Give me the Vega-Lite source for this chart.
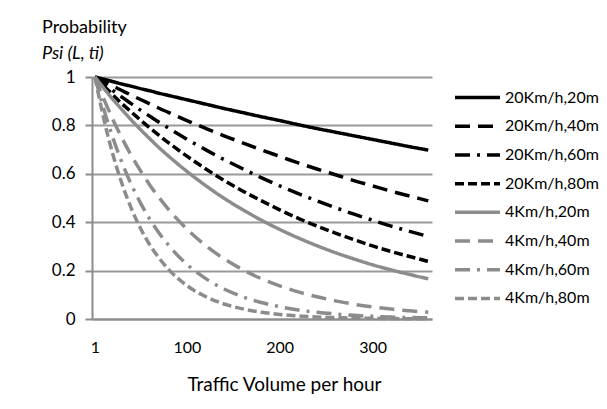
{
  "$schema": "https://vega.github.io/schema/vega-lite/v6.json",
  "autosize": {"type": "pad"},
  "padding": {"left": 42, "top": 19, "right": 5, "bottom": 5},
  "background": "white",
  "spacing": 23,
  "bounds": "flush",
  "config": {
    "font": "Lato",
    "view": {"stroke": null}
  },
  "datasets": {
    "legend": [
      {"s": "20Km/h,20m"}, {"s": "20Km/h,40m"}, {"s": "20Km/h,60m"}, {"s": "20Km/h,80m"},
      {"s": "4Km/h,20m"}, {"s": "4Km/h,40m"}, {"s": "4Km/h,60m"}, {"s": "4Km/h,80m"}
    ],
    "curves": [
      {"s": "20Km/h,20m", "v": 1, "p": 1}, {"s": "20Km/h,20m", "v": 10, "p": 0.991}, {"s": "20Km/h,20m", "v": 20, "p": 0.981}, {"s": "20Km/h,20m", "v": 30, "p": 0.971}, {"s": "20Km/h,20m", "v": 40, "p": 0.962}, {"s": "20Km/h,20m", "v": 50, "p": 0.952}, {"s": "20Km/h,20m", "v": 60, "p": 0.943}, {"s": "20Km/h,20m", "v": 70, "p": 0.933}, {"s": "20Km/h,20m", "v": 80, "p": 0.924}, {"s": "20Km/h,20m", "v": 100, "p": 0.906}, {"s": "20Km/h,20m", "v": 120, "p": 0.888}, {"s": "20Km/h,20m", "v": 140, "p": 0.870}, {"s": "20Km/h,20m", "v": 160, "p": 0.853}, {"s": "20Km/h,20m", "v": 180, "p": 0.836}, {"s": "20Km/h,20m", "v": 200, "p": 0.820}, {"s": "20Km/h,20m", "v": 220, "p": 0.803}, {"s": "20Km/h,20m", "v": 240, "p": 0.787}, {"s": "20Km/h,20m", "v": 260, "p": 0.772}, {"s": "20Km/h,20m", "v": 280, "p": 0.757}, {"s": "20Km/h,20m", "v": 300, "p": 0.742}, {"s": "20Km/h,20m", "v": 320, "p": 0.727}, {"s": "20Km/h,20m", "v": 340, "p": 0.712}, {"s": "20Km/h,20m", "v": 360, "p": 0.698},
      {"s": "20Km/h,40m", "v": 1, "p": 1}, {"s": "20Km/h,40m", "v": 10, "p": 0.982}, {"s": "20Km/h,40m", "v": 20, "p": 0.963}, {"s": "20Km/h,40m", "v": 30, "p": 0.944}, {"s": "20Km/h,40m", "v": 40, "p": 0.925}, {"s": "20Km/h,40m", "v": 50, "p": 0.907}, {"s": "20Km/h,40m", "v": 60, "p": 0.889}, {"s": "20Km/h,40m", "v": 70, "p": 0.871}, {"s": "20Km/h,40m", "v": 80, "p": 0.854}, {"s": "20Km/h,40m", "v": 100, "p": 0.820}, {"s": "20Km/h,40m", "v": 120, "p": 0.788}, {"s": "20Km/h,40m", "v": 140, "p": 0.757}, {"s": "20Km/h,40m", "v": 160, "p": 0.728}, {"s": "20Km/h,40m", "v": 180, "p": 0.699}, {"s": "20Km/h,40m", "v": 200, "p": 0.672}, {"s": "20Km/h,40m", "v": 220, "p": 0.645}, {"s": "20Km/h,40m", "v": 240, "p": 0.620}, {"s": "20Km/h,40m", "v": 260, "p": 0.596}, {"s": "20Km/h,40m", "v": 280, "p": 0.572}, {"s": "20Km/h,40m", "v": 300, "p": 0.550}, {"s": "20Km/h,40m", "v": 320, "p": 0.528}, {"s": "20Km/h,40m", "v": 340, "p": 0.508}, {"s": "20Km/h,40m", "v": 360, "p": 0.488},
      {"s": "20Km/h,60m", "v": 1, "p": 1}, {"s": "20Km/h,60m", "v": 10, "p": 0.973}, {"s": "20Km/h,60m", "v": 20, "p": 0.945}, {"s": "20Km/h,60m", "v": 30, "p": 0.917}, {"s": "20Km/h,60m", "v": 40, "p": 0.890}, {"s": "20Km/h,60m", "v": 50, "p": 0.863}, {"s": "20Km/h,60m", "v": 60, "p": 0.838}, {"s": "20Km/h,60m", "v": 70, "p": 0.813}, {"s": "20Km/h,60m", "v": 80, "p": 0.789}, {"s": "20Km/h,60m", "v": 100, "p": 0.743}, {"s": "20Km/h,60m", "v": 120, "p": 0.700}, {"s": "20Km/h,60m", "v": 140, "p": 0.659}, {"s": "20Km/h,60m", "v": 160, "p": 0.621}, {"s": "20Km/h,60m", "v": 180, "p": 0.584}, {"s": "20Km/h,60m", "v": 200, "p": 0.550}, {"s": "20Km/h,60m", "v": 220, "p": 0.518}, {"s": "20Km/h,60m", "v": 240, "p": 0.488}, {"s": "20Km/h,60m", "v": 260, "p": 0.460}, {"s": "20Km/h,60m", "v": 280, "p": 0.433}, {"s": "20Km/h,60m", "v": 300, "p": 0.408}, {"s": "20Km/h,60m", "v": 320, "p": 0.384}, {"s": "20Km/h,60m", "v": 340, "p": 0.362}, {"s": "20Km/h,60m", "v": 360, "p": 0.341},
      {"s": "20Km/h,80m", "v": 1, "p": 1}, {"s": "20Km/h,80m", "v": 10, "p": 0.965}, {"s": "20Km/h,80m", "v": 20, "p": 0.927}, {"s": "20Km/h,80m", "v": 30, "p": 0.890}, {"s": "20Km/h,80m", "v": 40, "p": 0.856}, {"s": "20Km/h,80m", "v": 50, "p": 0.822}, {"s": "20Km/h,80m", "v": 60, "p": 0.790}, {"s": "20Km/h,80m", "v": 70, "p": 0.759}, {"s": "20Km/h,80m", "v": 80, "p": 0.729}, {"s": "20Km/h,80m", "v": 100, "p": 0.673}, {"s": "20Km/h,80m", "v": 120, "p": 0.621}, {"s": "20Km/h,80m", "v": 140, "p": 0.573}, {"s": "20Km/h,80m", "v": 160, "p": 0.529}, {"s": "20Km/h,80m", "v": 180, "p": 0.489}, {"s": "20Km/h,80m", "v": 200, "p": 0.451}, {"s": "20Km/h,80m", "v": 220, "p": 0.416}, {"s": "20Km/h,80m", "v": 240, "p": 0.384}, {"s": "20Km/h,80m", "v": 260, "p": 0.355}, {"s": "20Km/h,80m", "v": 280, "p": 0.328}, {"s": "20Km/h,80m", "v": 300, "p": 0.302}, {"s": "20Km/h,80m", "v": 320, "p": 0.279}, {"s": "20Km/h,80m", "v": 340, "p": 0.258}, {"s": "20Km/h,80m", "v": 360, "p": 0.238},
      {"s": "4Km/h,20m", "v": 1, "p": 1}, {"s": "4Km/h,20m", "v": 10, "p": 0.956}, {"s": "4Km/h,20m", "v": 20, "p": 0.909}, {"s": "4Km/h,20m", "v": 30, "p": 0.865}, {"s": "4Km/h,20m", "v": 40, "p": 0.823}, {"s": "4Km/h,20m", "v": 50, "p": 0.783}, {"s": "4Km/h,20m", "v": 60, "p": 0.745}, {"s": "4Km/h,20m", "v": 70, "p": 0.708}, {"s": "4Km/h,20m", "v": 80, "p": 0.674}, {"s": "4Km/h,20m", "v": 100, "p": 0.610}, {"s": "4Km/h,20m", "v": 120, "p": 0.552}, {"s": "4Km/h,20m", "v": 140, "p": 0.499}, {"s": "4Km/h,20m", "v": 160, "p": 0.452}, {"s": "4Km/h,20m", "v": 180, "p": 0.409}, {"s": "4Km/h,20m", "v": 200, "p": 0.370}, {"s": "4Km/h,20m", "v": 220, "p": 0.335}, {"s": "4Km/h,20m", "v": 240, "p": 0.303}, {"s": "4Km/h,20m", "v": 260, "p": 0.274}, {"s": "4Km/h,20m", "v": 280, "p": 0.248}, {"s": "4Km/h,20m", "v": 300, "p": 0.224}, {"s": "4Km/h,20m", "v": 320, "p": 0.203}, {"s": "4Km/h,20m", "v": 340, "p": 0.184}, {"s": "4Km/h,20m", "v": 360, "p": 0.166},
      {"s": "4Km/h,40m", "v": 1, "p": 1}, {"s": "4Km/h,40m", "v": 10, "p": 0.914}, {"s": "4Km/h,40m", "v": 20, "p": 0.827}, {"s": "4Km/h,40m", "v": 30, "p": 0.748}, {"s": "4Km/h,40m", "v": 40, "p": 0.677}, {"s": "4Km/h,40m", "v": 50, "p": 0.613}, {"s": "4Km/h,40m", "v": 60, "p": 0.554}, {"s": "4Km/h,40m", "v": 70, "p": 0.502}, {"s": "4Km/h,40m", "v": 80, "p": 0.454}, {"s": "4Km/h,40m", "v": 100, "p": 0.372}, {"s": "4Km/h,40m", "v": 120, "p": 0.304}, {"s": "4Km/h,40m", "v": 140, "p": 0.249}, {"s": "4Km/h,40m", "v": 160, "p": 0.204}, {"s": "4Km/h,40m", "v": 180, "p": 0.167}, {"s": "4Km/h,40m", "v": 200, "p": 0.137}, {"s": "4Km/h,40m", "v": 220, "p": 0.112}, {"s": "4Km/h,40m", "v": 240, "p": 0.092}, {"s": "4Km/h,40m", "v": 260, "p": 0.075}, {"s": "4Km/h,40m", "v": 280, "p": 0.061}, {"s": "4Km/h,40m", "v": 300, "p": 0.050}, {"s": "4Km/h,40m", "v": 320, "p": 0.041}, {"s": "4Km/h,40m", "v": 340, "p": 0.034}, {"s": "4Km/h,40m", "v": 360, "p": 0.028},
      {"s": "4Km/h,60m", "v": 1, "p": 1}, {"s": "4Km/h,60m", "v": 10, "p": 0.874}, {"s": "4Km/h,60m", "v": 20, "p": 0.752}, {"s": "4Km/h,60m", "v": 30, "p": 0.647}, {"s": "4Km/h,60m", "v": 40, "p": 0.557}, {"s": "4Km/h,60m", "v": 50, "p": 0.480}, {"s": "4Km/h,60m", "v": 60, "p": 0.413}, {"s": "4Km/h,60m", "v": 70, "p": 0.355}, {"s": "4Km/h,60m", "v": 80, "p": 0.306}, {"s": "4Km/h,60m", "v": 100, "p": 0.226}, {"s": "4Km/h,60m", "v": 120, "p": 0.168}, {"s": "4Km/h,60m", "v": 140, "p": 0.124}, {"s": "4Km/h,60m", "v": 160, "p": 0.092}, {"s": "4Km/h,60m", "v": 180, "p": 0.068}, {"s": "4Km/h,60m", "v": 200, "p": 0.051}, {"s": "4Km/h,60m", "v": 220, "p": 0.037}, {"s": "4Km/h,60m", "v": 240, "p": 0.028}, {"s": "4Km/h,60m", "v": 260, "p": 0.021}, {"s": "4Km/h,60m", "v": 280, "p": 0.015}, {"s": "4Km/h,60m", "v": 300, "p": 0.011}, {"s": "4Km/h,60m", "v": 320, "p": 0.008}, {"s": "4Km/h,60m", "v": 340, "p": 0.006}, {"s": "4Km/h,60m", "v": 360, "p": 0.005},
      {"s": "4Km/h,80m", "v": 1, "p": 1}, {"s": "4Km/h,80m", "v": 10, "p": 0.835}, {"s": "4Km/h,80m", "v": 20, "p": 0.684}, {"s": "4Km/h,80m", "v": 30, "p": 0.560}, {"s": "4Km/h,80m", "v": 40, "p": 0.458}, {"s": "4Km/h,80m", "v": 50, "p": 0.375}, {"s": "4Km/h,80m", "v": 60, "p": 0.307}, {"s": "4Km/h,80m", "v": 70, "p": 0.252}, {"s": "4Km/h,80m", "v": 80, "p": 0.206}, {"s": "4Km/h,80m", "v": 100, "p": 0.138}, {"s": "4Km/h,80m", "v": 120, "p": 0.093}, {"s": "4Km/h,80m", "v": 140, "p": 0.062}, {"s": "4Km/h,80m", "v": 160, "p": 0.042}, {"s": "4Km/h,80m", "v": 180, "p": 0.028}, {"s": "4Km/h,80m", "v": 200, "p": 0.019}, {"s": "4Km/h,80m", "v": 220, "p": 0.013}, {"s": "4Km/h,80m", "v": 240, "p": 0.008}, {"s": "4Km/h,80m", "v": 260, "p": 0.006}, {"s": "4Km/h,80m", "v": 280, "p": 0.004}, {"s": "4Km/h,80m", "v": 300, "p": 0.003}, {"s": "4Km/h,80m", "v": 320, "p": 0.002}, {"s": "4Km/h,80m", "v": 340, "p": 0.001}, {"s": "4Km/h,80m", "v": 360, "p": 0.001}
    ]
  },
  "hconcat": [
    {
      "width": 340,
      "height": 242,
      "title": {
        "text": "Probability",
        "subtitle": "\u00a0\u00a0\u00a0Psi (L, ti)",
        "anchor": "start",
        "frame": "group",
        "dx": -50,
        "offset": 5,
        "font": "Lato",
        "fontSize": 18,
        "fontWeight": "normal",
        "color": "#000",
        "subtitleFont": "Lato",
        "subtitleFontSize": 18,
        "subtitleFontStyle": "italic",
        "subtitleColor": "#000",
        "subtitlePadding": 8
      },
      "data": {"name": "curves"},
      "mark": {"type": "line", "strokeWidth": 3.5, "interpolate": "monotone"},
      "encoding": {
        "x": {
          "field": "v",
          "type": "quantitative",
          "scale": {"domain": [-2.2, 364], "nice": false, "zero": false},
          "axis": {
            "values": [1, 100, 200, 300],
            "title": "Traffic Volume per hour",
            "titleFont": "Lato",
            "titleFontSize": 19,
            "titleFontWeight": "normal",
            "titleColor": "#000",
            "titlePadding": 20,
            "titleX": 192,
            "labelFont": "Lato",
            "labelFontSize": 16,
            "labelColor": "#000",
            "labelPadding": 20,
            "ticks": false,
            "grid": false,
            "domainColor": "#8c8c8c",
            "domainWidth": 2
          }
        },
        "y": {
          "field": "p",
          "type": "quantitative",
          "scale": {"domain": [0, 1], "nice": false},
          "axis": {
            "values": [0, 0.2, 0.4, 0.6, 0.8, 1],
            "format": ".1~f",
            "title": null,
            "labelFont": "Lato",
            "labelFontSize": 17,
            "labelColor": "#000",
            "labelPadding": 10,
            "ticks": true,
            "tickSize": 7,
            "tickColor": "#8c8c8c",
            "tickWidth": 2,
            "grid": true,
            "gridColor": "#9a9a9a",
            "gridWidth": 2,
            "domainColor": "#8c8c8c",
            "domainWidth": 2
          }
        },
        "color": {
          "field": "s",
          "type": "nominal",
          "legend": null,
          "scale": {
            "domain": ["20Km/h,20m", "20Km/h,40m", "20Km/h,60m", "20Km/h,80m", "4Km/h,20m", "4Km/h,40m", "4Km/h,60m", "4Km/h,80m"],
            "range": ["#000000", "#000000", "#000000", "#000000", "#8c8c8c", "#8c8c8c", "#8c8c8c", "#8c8c8c"]
          }
        },
        "strokeDash": {
          "field": "s",
          "type": "nominal",
          "legend": null,
          "scale": {
            "domain": ["20Km/h,20m", "20Km/h,40m", "20Km/h,60m", "20Km/h,80m", "4Km/h,20m", "4Km/h,40m", "4Km/h,60m", "4Km/h,80m"],
            "range": [[1, 0], [15, 8], [15, 7, 3, 7], [9, 4], [1, 0], [15, 8], [15, 7, 3, 7], [9, 4]]
          }
        }
      }
    },
    {
      "width": 45,
      "height": 242,
      "data": {"name": "legend"},
      "encoding": {
        "y": {
          "field": "s",
          "type": "nominal",
          "sort": null,
          "axis": null,
          "scale": {"type": "point", "padding": 0.715}
        }
      },
      "layer": [
        {
          "mark": {"type": "rule", "strokeWidth": 3.5},
          "encoding": {
            "x": {"datum": 0, "type": "quantitative", "scale": {"domain": [0, 1], "nice": false}, "axis": null},
            "x2": {"datum": 1},
            "color": {
              "field": "s",
              "type": "nominal",
              "legend": null,
              "scale": {
                "domain": ["20Km/h,20m", "20Km/h,40m", "20Km/h,60m", "20Km/h,80m", "4Km/h,20m", "4Km/h,40m", "4Km/h,60m", "4Km/h,80m"],
                "range": ["#000000", "#000000", "#000000", "#000000", "#8c8c8c", "#8c8c8c", "#8c8c8c", "#8c8c8c"]
              }
            },
            "strokeDash": {
              "field": "s",
              "type": "nominal",
              "legend": null,
              "scale": {
                "domain": ["20Km/h,20m", "20Km/h,40m", "20Km/h,60m", "20Km/h,80m", "4Km/h,20m", "4Km/h,40m", "4Km/h,60m", "4Km/h,80m"],
                "range": [[1, 0], [15, 8], [15, 7, 3, 7], [9, 4], [1, 0], [15, 8], [15, 7, 3, 7], [9, 4]]
              }
            }
          }
        },
        {
          "mark": {"type": "text", "align": "left", "baseline": "middle", "dx": 5, "font": "Lato", "fontSize": 16, "color": "#000"},
          "encoding": {
            "x": {"datum": 1, "type": "quantitative"},
            "text": {"field": "s", "type": "nominal"}
          }
        }
      ]
    }
  ]
}
